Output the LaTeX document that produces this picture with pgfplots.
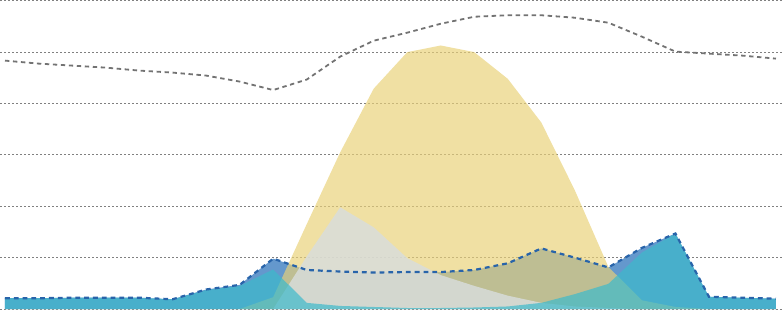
\documentclass[border=0pt]{standalone}
\usepackage{pgfplots}
\pgfplotsset{compat=1.18}
\definecolor{cblue}{RGB}{100,152,205}
\definecolor{cyel}{RGB}{233,209,120}
\definecolor{cgray}{RGB}{216,221,221}
\definecolor{ccyan}{RGB}{61,186,203}
\definecolor{dblue}{RGB}{40,100,170}
\definecolor{dgray}{RGB}{115,115,115}
\begin{document}
\begin{tikzpicture}
\begin{axis}[name=ax,
  scale only axis, width=391pt, height=160.5pt,
  xmin=-0.149, xmax=23.18, ymin=-0.233, ymax=6.015,
  axis line style={draw=none}, xtick=\empty, ytick={0,1,2,3,4,5,6},
  yticklabels={}, major tick length=0pt,
  ymajorgrids, grid style={draw=gray, line width=0.5pt, dash pattern=on 0.9pt off 1.1pt},
  clip=true]
% blue area (top = dashed blue line)
\addplot[draw=none, fill=cblue] coordinates {
(0,0.21)(1,0.21)(2,0.22)(3,0.22)(4,0.22)(5,0.19)(6,0.38)(7,0.47)(8,0.98)(9,0.76)(10,0.73)(11,0.71)(12,0.72)(13,0.72)(14,0.76)(15,0.89)(16,1.18)(17,1.00)(18,0.81)(19,1.19)(20,1.47)(21,0.24)(22,0.22)(23,0.20)} \closedcycle;
% yellow area
\addplot[draw=none, fill=cyel, fill opacity=0.68] coordinates {
(0,0)(1,0)(2,0)(3,0)(4,0)(5,0)(6,0)(7,0)(8,0.23)(9,1.65)(10,3.05)(11,4.29)(12,5.00)(13,5.13)(14,5.00)(15,4.48)(16,3.63)(17,2.31)(18,0.82)(19,0.17)(20,0.04)(21,0)(22,0)(23,0)} \closedcycle;
% gray area
\addplot[draw=none, fill=cgray, fill opacity=0.82] coordinates {
(0,0)(1,0)(2,0)(3,0)(4,0)(5,0)(6,0)(7,0)(8,0)(9,1.02)(10,1.98)(11,1.59)(12,0.99)(13,0.66)(14,0.45)(15,0.26)(16,0.12)(17,0.05)(18,0.02)(19,0)(20,0)(21,0)(22,0)(23,0)} \closedcycle;
% cyan area
\addplot[draw=none, fill=ccyan, fill opacity=0.7] coordinates {
(0,0.21)(1,0.21)(2,0.22)(3,0.22)(4,0.22)(5,0.19)(6,0.37)(7,0.45)(8,0.77)(9,0.12)(10,0.06)(11,0.04)(12,0.02)(13,0.02)(14,0.03)(15,0.05)(16,0.12)(17,0.29)(18,0.49)(19,1.10)(20,1.47)(21,0.24)(22,0.22)(23,0.20)} \closedcycle;
% dashed blue line
\addplot[dblue, line width=1.1pt, dash pattern=on 2.4pt off 2pt] coordinates {
(0,0.21)(1,0.21)(2,0.22)(3,0.22)(4,0.22)(5,0.19)(6,0.38)(7,0.47)(8,0.98)(9,0.76)(10,0.73)(11,0.71)(12,0.72)(13,0.72)(14,0.76)(15,0.89)(16,1.18)(17,1.00)(18,0.81)(19,1.19)(20,1.47)(21,0.24)(22,0.22)(23,0.20)};
% dashed gray line
\addplot[dgray, line width=0.9pt, dash pattern=on 2.2pt off 1.8pt] coordinates {
(0,4.835)(1,4.777)(2,4.738)(3,4.699)(4,4.641)(5,4.602)(6,4.544)(7,4.427)(8,4.262)(9,4.466)(10,4.913)(11,5.223)(12,5.379)(13,5.553)(14,5.689)(15,5.718)(16,5.718)(17,5.670)(18,5.573)(19,5.301)(20,5.010)(21,4.971)(22,4.932)(23,4.874)};
\end{axis}
\pgfresetboundingbox
\path (ax.south west) rectangle (ax.north east);
\end{tikzpicture}
\end{document}
